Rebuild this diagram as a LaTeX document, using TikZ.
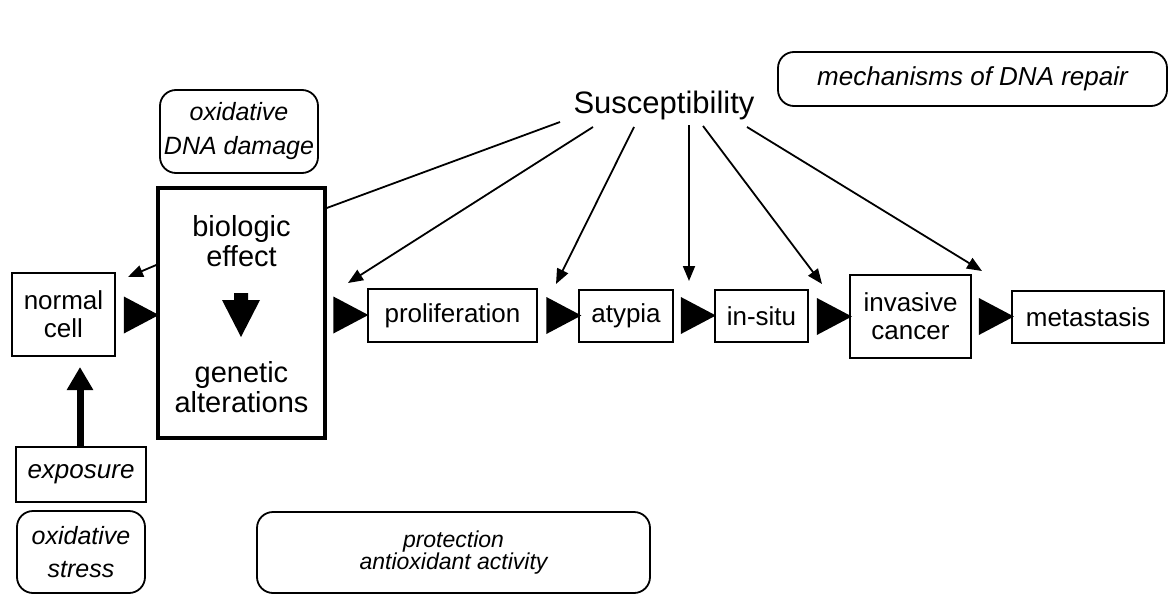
\documentclass[tikz,border=0pt]{standalone}
\usepackage{fontspec}
\setmainfont{Liberation Sans}
\usetikzlibrary{arrows.meta,shapes.geometric}
\tikzset{
  box/.style={draw, line width=1.6pt, inner sep=0pt, align=center,
    font=\fontsize{26}{28}\selectfont},
  rbox/.style={draw, line width=1.8pt, rounded corners=16pt, inner sep=0pt,
    align=center, font=\fontsize{25}{34}\selectfont\itshape},
  ptr/.style={line width=1.8pt, -{Triangle[length=15pt,width=12pt]}},
  plainline/.style={line width=1.8pt},
  chev/.style={isosceles triangle, isosceles triangle stretches, fill=black,
    draw=none, inner sep=0pt, minimum height=35pt, minimum width=37pt},
  bigtxt/.style={align=center, inner sep=0pt, font=\fontsize{29}{30}\selectfont},
}
\begin{document}
\begin{tikzpicture}[x=1pt,y=-1pt]
\useasboundingbox (0,0) rectangle (1169,594);

% top boxes
\node[rbox, minimum width=389pt, minimum height=54pt,
      font=\fontsize{26}{28}\selectfont\itshape] (mech) at (972.5,79) {mechanisms of DNA repair};
\node[inner sep=0pt, font=\fontsize{31}{33}\selectfont, anchor=base] (susc) at (664,113) {Susceptibility};
\node[rbox, minimum width=158pt, minimum height=83pt] (oxdna) at (239,131.5) {oxidative\\DNA damage};

% main row
\node[box, minimum width=103pt, minimum height=83pt] (ncell) at (63.5,314.5) {normal\\cell};
\node[draw, line width=3.5pt, minimum width=167pt, minimum height=250pt, inner sep=0pt] (bio) at (241.5,313) {};
\node[bigtxt] (bioa) at (241.5,241) {biologic\\effect};
\node[bigtxt] (biob) at (241.5,387) {genetic\\alterations};
\fill (234,293) -- (248,293) -- (248,300) -- (260,300) -- (241,337) -- (222,300) -- (234,300) -- cycle;

\node[box, minimum width=169pt, minimum height=53pt] (prolif) at (452.5,315.5) {proliferation};
\node[box, minimum width=94pt, minimum height=52pt] (atyp) at (626,316) {atypia};
\node[box, minimum width=93pt, minimum height=52pt] (insitu) at (761.5,316) {in-situ};
\node[box, minimum width=121pt, minimum height=83pt] (inv) at (910.5,316.5) {invasive\\cancer};
\node[box, minimum width=152pt, minimum height=52pt] (meta) at (1088,317) {metastasis};

% chevrons
\node[chev] (t1) at (135,315) {};
\node[chev] (t2) at (344.5,315) {};
\node[chev] (t3) at (557.5,315.5) {};
\node[chev] (t4) at (692,315.5) {};
\node[chev] (t5) at (828,316.5) {};
\node[chev] (t6) at (990,316.5) {};

% bottom
\node[box, minimum width=130pt, minimum height=55pt, font=\fontsize{26}{28}\selectfont\itshape] (expo) at (81,474.5) {exposure};
\node[rbox, minimum width=128pt, minimum height=82pt, font=\fontsize{25}{33}\selectfont\itshape] (oxst) at (81,552) {oxidative\\stress};
\node[rbox, minimum width=393pt, minimum height=81pt, font=\fontsize{23}{22}\selectfont\itshape] (prot) at (453.5,552.5) {protection\\antioxidant activity};

% thick up arrow
\coordinate (uptip) at (80,367);
\draw[line width=7pt, -{Triangle[length=23pt,width=25pt]}] (expo.north -| uptip) -- (uptip);

% susceptibility connectors
\coordinate (s0) at (560,122);
\coordinate (s1) at (593,127);
\coordinate (s2) at (634,127);
\coordinate (s3) at (689,125);
\coordinate (s4) at (703,126);
\coordinate (s5) at (747,127);
\coordinate (e0) at (128,277);
\coordinate (e1) at (348,283);
\coordinate (e2) at (556,284);
\coordinate (e3) at (689,281);
\coordinate (e4) at (822,284);
\coordinate (e5) at (982,271);

\draw[plainline] (s0) -- (bio.east |- 0,208);
\draw[ptr] (bio.west |- 0,265) -- (e0);
\draw[ptr] (s1) -- (e1);
\draw[ptr] (s2) -- (e2);
\draw[ptr] (s3) -- (e3);
\draw[ptr] (s4) -- (e4);
\draw[ptr] (s5) -- (e5);
\end{tikzpicture}
\end{document}
